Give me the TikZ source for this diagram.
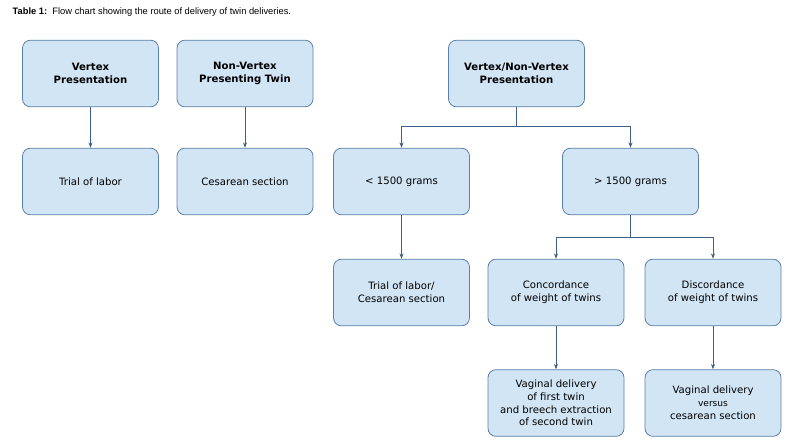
\documentclass[tikz,border=0pt]{standalone}
\usepackage{fontspec}
\setmainfont{DejaVu Sans}
\newfontfamily\ttl{Liberation Sans}
\usetikzlibrary{arrows.meta}
\definecolor{bfill}{HTML}{D2E5F5}
\definecolor{bdraw}{HTML}{5A7FA8}
\definecolor{lcol}{HTML}{3F5F86}
\begin{document}
\begin{tikzpicture}[x=0.75pt,y=-0.75pt,
  box/.style={draw=bdraw,fill=bfill,rounded corners=6pt,line width=0.6pt,minimum width=102pt,minimum height=50pt,align=center,font=\fontsize{7.6}{9.6}\selectfont,inner sep=1pt},
  arr/.style={draw=lcol,line width=0.5pt,-{Stealth[length=4pt,width=3pt]}},
  ln/.style={draw=lcol,line width=0.5pt}]
\useasboundingbox (0,0) rectangle (802,445);
\node[anchor=west,font=\ttl\fontsize{7}{8}\selectfont] (t) at (8,12) {\textbf{Table 1:}\ \ Flow chart showing the route of delivery of twin deliveries.};
\node[box,font=\bfseries\fontsize{7.6}{9.6}\selectfont] (a) at (90.5,73.5) {Vertex\\Presentation};
\node[box,font=\bfseries\fontsize{7.6}{9.6}\selectfont] (b) at (245,73.5) {Non-Vertex\\Presenting Twin};
\node[box,font=\bfseries\fontsize{7.6}{9.6}\selectfont] (c) at (516.5,73.5) {Vertex/Non-Vertex\\Presentation};
\node[box] (d) at (90.5,181.5) {Trial of labor};
\node[box] (e) at (245,181.5) {Cesarean section};
\node[box] (f) at (401.5,181.5) {< 1500 grams};
\node[box] (g) at (630.5,181.5) {> 1500 grams};
\node[box] (h) at (401.5,292.5) {Trial of labor/\\Cesarean section};
\node[box] (i) at (556,292.5) {Concordance\\of weight of twins};
\node[box] (j) at (713,292.5) {Discordance\\of weight of twins};
\node[box] (k) at (556,403) {Vaginal delivery\\of first twin\\and breech extraction\\of second twin};
\node[box] (l) at (713,403) {Vaginal delivery\\{\fontsize{6.8}{9}\selectfont versus}\\cesarean section};
\draw[arr] (a) -- (d);
\draw[arr] (b) -- (e);
\coordinate (c1) at (516.5,126);
\draw[ln] (c) -- (c1);
\draw[arr] (c1) -| (f);
\draw[arr] (c1) -| (g);
\coordinate (g1) at (630.5,237);
\draw[ln] (g) -- (g1);
\draw[arr] (g1) -| (i);
\draw[arr] (g1) -| (j);
\draw[arr] (f) -- (h);
\draw[arr] (i) -- (k);
\draw[arr] (j) -- (l);
\end{tikzpicture}
\end{document}
